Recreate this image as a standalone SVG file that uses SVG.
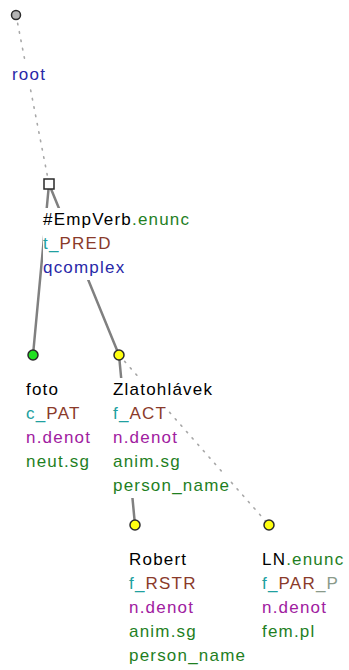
<svg xmlns="http://www.w3.org/2000/svg" width="349" height="670" viewBox="0 0 349 670">
<style>
text{font-family:"Liberation Sans",Arial,sans-serif;font-size:17px;letter-spacing:1.2px;fill:#000}
.bg{fill:#fff}
.solid{stroke:#808080;stroke-width:2.5;fill:none;stroke-linecap:round}
.dot{stroke:#a8a8a8;stroke-width:1.6;fill:none;stroke-dasharray:1.5 7;stroke-linecap:round}
.nd{stroke:#2a2a2a;stroke-width:1.5}
.blue{fill:#2828a8}.green{fill:#1f7f1f}.teal{fill:#20a0a0}.brown{fill:#8a3a2a}.purple{fill:#a020a0}.grey{fill:#8a9a8a}
</style>
<rect width="349" height="670" fill="#fff"/>
<g id="connectors">
<line class="dot" x1="16" y1="15" x2="49" y2="184"/>
<line class="solid" x1="49" y1="184" x2="33" y2="355"/>
<line class="solid" x1="49" y1="184" x2="119" y2="355"/>
<line class="solid" x1="119" y1="355" x2="135" y2="525"/>
<line class="dot" x1="119" y1="355" x2="269" y2="525"/>
</g>
<g id="root">
<rect class="bg" x="12" y="63" width="34" height="24"/>
<circle class="nd" cx="16" cy="15" r="4.5" fill="#b4b4b4"/>
<text x="12" y="80" class="blue">root</text>
</g>
<g id="empverb">
<rect class="bg" x="43" y="208" width="150" height="24"/>
<rect class="bg" x="43" y="232" width="70" height="24"/>
<rect class="bg" x="43" y="256" width="83" height="24"/>
<rect class="nd" x="44" y="179" width="10" height="10" fill="#fff"/>
<text x="43" y="225">#EmpVerb<tspan class="green">.enunc</tspan></text>
<text x="43" y="249"><tspan class="teal">t_</tspan><tspan class="brown">PRED</tspan></text>
<text x="43" y="273" class="blue">qcomplex</text>
</g>
<g id="foto">
<rect class="bg" x="26" y="378" width="34" height="24"/>
<rect class="bg" x="26" y="402" width="58" height="24"/>
<rect class="bg" x="26" y="426" width="66" height="24"/>
<rect class="bg" x="26" y="450" width="65" height="24"/>
<circle class="nd" cx="33" cy="355" r="5" fill="#22e022"/>
<text x="26" y="395">foto</text>
<text x="26" y="419"><tspan class="teal">c_</tspan><tspan class="brown">PAT</tspan></text>
<text x="26" y="443" class="purple">n.denot</text>
<text x="26" y="467" class="green">neut.sg</text>
</g>
<g id="zlatohlavek">
<rect class="bg" x="113" y="378" width="100" height="24"/>
<rect class="bg" x="113" y="402" width="53" height="24"/>
<rect class="bg" x="113" y="426" width="66" height="24"/>
<rect class="bg" x="113" y="450" width="69" height="24"/>
<rect class="bg" x="113" y="474" width="117" height="24"/>
<circle class="nd" cx="119" cy="355" r="5" fill="#ffff10"/>
<text x="113" y="395">Zlatohlávek</text>
<text x="113" y="419"><tspan class="teal">f_</tspan><tspan class="brown">ACT</tspan></text>
<text x="113" y="443" class="purple">n.denot</text>
<text x="113" y="467" class="green">anim.sg</text>
<text x="113" y="491" class="green">person_name</text>
</g>
<g id="robert">
<rect class="bg" x="129" y="548" width="59" height="24"/>
<rect class="bg" x="129" y="572" width="69" height="24"/>
<rect class="bg" x="129" y="596" width="66" height="24"/>
<rect class="bg" x="129" y="620" width="69" height="24"/>
<rect class="bg" x="129" y="644" width="118" height="24"/>
<circle class="nd" cx="135" cy="525" r="5" fill="#ffff10"/>
<text x="129" y="565">Robert</text>
<text x="129" y="589"><tspan class="teal">f_</tspan><tspan class="brown">RSTR</tspan></text>
<text x="129" y="613" class="purple">n.denot</text>
<text x="129" y="637" class="green">anim.sg</text>
<text x="129" y="661" class="green">person_name</text>
</g>
<g id="ln">
<rect class="bg" x="262" y="548" width="83" height="24"/>
<rect class="bg" x="262" y="572" width="79" height="24"/>
<rect class="bg" x="262" y="596" width="66" height="24"/>
<rect class="bg" x="262" y="620" width="54" height="24"/>
<circle class="nd" cx="269" cy="525" r="5" fill="#ffff10"/>
<text x="262" y="565">LN<tspan class="green">.enunc</tspan></text>
<text x="262" y="589"><tspan class="teal">f_</tspan><tspan class="brown">PAR</tspan><tspan class="grey">_P</tspan></text>
<text x="262" y="613" class="purple">n.denot</text>
<text x="262" y="637" class="green">fem.pl</text>
</g>
</svg>
